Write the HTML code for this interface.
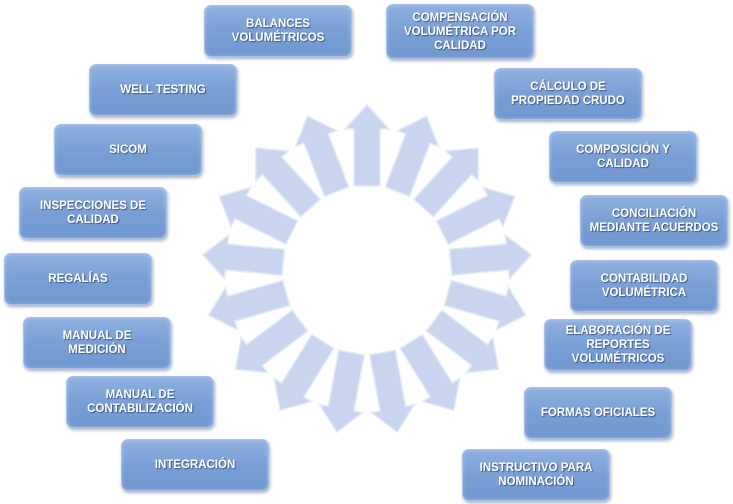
<!DOCTYPE html>
<html><head><meta charset="utf-8"><style>
body{margin:0;width:733px;height:504px;background:#fff;position:relative;overflow:hidden;font-family:"Liberation Sans",sans-serif}
.b{position:absolute;width:146px;height:50px;border-radius:7px;background:linear-gradient(#8eb0e0,#7a9fd6 50%,#7097d0);border:1px solid #a9c1e6;box-shadow:1px 2px 3px rgba(60,80,120,.45), inset 0 0 4px rgba(255,255,255,.3);display:flex;align-items:center;justify-content:center;text-align:center;color:#fff;font-weight:bold;font-size:11.5px;line-height:14px;text-shadow:1px 1px 1px rgba(40,60,100,.7)}
svg{position:absolute;left:0;top:0}
</style></head><body>
<svg width="733" height="504">
<defs><polygon id="a" points="-13,-84 13,-84 13,-141 22,-141 0,-165 -22,-141 -13,-141" fill="#c9d5ee" stroke="#e3eaf8" stroke-width="1.5"/></defs>
<g transform="translate(367,270)">
<use href="#a" transform="rotate(0)"/><use href="#a" transform="rotate(21.18)"/><use href="#a" transform="rotate(42.35)"/><use href="#a" transform="rotate(63.53)"/><use href="#a" transform="rotate(84.71)"/><use href="#a" transform="rotate(105.88)"/><use href="#a" transform="rotate(127.06)"/><use href="#a" transform="rotate(148.24)"/><use href="#a" transform="rotate(169.41)"/><use href="#a" transform="rotate(190.59)"/><use href="#a" transform="rotate(211.76)"/><use href="#a" transform="rotate(232.94)"/><use href="#a" transform="rotate(254.12)"/><use href="#a" transform="rotate(275.29)"/><use href="#a" transform="rotate(296.47)"/><use href="#a" transform="rotate(317.65)"/><use href="#a" transform="rotate(338.82)"/>
</g></svg>
<div class="b" style="left:204px;top:5px">BALANCES<br>VOLUMÉTRICOS</div>
<div class="b" style="left:89px;top:64px">WELL TESTING</div>
<div class="b" style="left:54px;top:124px">SICOM</div>
<div class="b" style="left:19px;top:187px">INSPECCIONES DE<br>CALIDAD</div>
<div class="b" style="left:4px;top:253px">REGALÍAS</div>
<div class="b" style="left:23px;top:317px">MANUAL DE<br>MEDICIÓN</div>
<div class="b" style="left:66px;top:376px">MANUAL DE<br>CONTABILIZACIÓN</div>
<div class="b" style="left:121px;top:439px">INTEGRACIÓN</div>
<div class="b" style="left:386px;top:4px;height:53px">COMPENSACIÓN<br>VOLUMÉTRICA POR<br>CALIDAD</div>
<div class="b" style="left:494px;top:68px">CÁLCULO DE<br>PROPIEDAD CRUDO</div>
<div class="b" style="left:549px;top:131px">COMPOSICIÓN Y<br>CALIDAD</div>
<div class="b" style="left:580px;top:195px">CONCILIACIÓN<br>MEDIANTE ACUERDOS</div>
<div class="b" style="left:570px;top:260px">CONTABILIDAD<br>VOLUMÉTRICA</div>
<div class="b" style="left:544px;top:319px">ELABORACIÓN DE<br>REPORTES<br>VOLUMÉTRICOS</div>
<div class="b" style="left:524px;top:387px">FORMAS OFICIALES</div>
<div class="b" style="left:462px;top:449px">INSTRUCTIVO PARA<br>NOMINACIÓN</div>
</body></html>
